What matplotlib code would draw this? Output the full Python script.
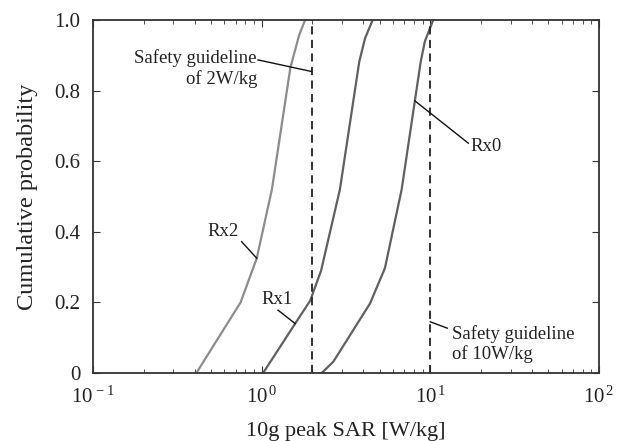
import matplotlib.pyplot as plt
from matplotlib.ticker import FixedLocator, LogLocator

plt.rcParams['font.family'] = ['Liberation Serif', 'DejaVu Serif']
plt.rcParams['mathtext.fontset'] = 'custom'
plt.rcParams['mathtext.rm'] = 'Liberation Serif'
plt.rcParams['mathtext.it'] = 'Liberation Serif:italic'

# curves (10g peak SAR in W/kg, cumulative probability)
rx2_sar = [0.41, 0.75, 0.935, 1.15, 1.48, 1.67, 1.81]
rx2_p = [0.0, 0.20, 0.325, 0.52, 0.865, 0.958, 1.0]

rx1_sar = [1.02, 1.58, 1.94, 2.25, 2.91, 3.79, 4.10, 4.55]
rx1_p = [0.0, 0.14, 0.205, 0.29, 0.52, 0.882, 0.948, 1.0]

rx0_sar = [2.27, 2.66, 4.39, 5.38, 6.76, 8.77, 9.29, 10.4]
rx0_p = [0.0, 0.032, 0.197, 0.297, 0.52, 0.882, 0.94, 1.0]

guidelines = [2, 10]
yticks = [0, 0.2, 0.4, 0.6, 0.8, 1.0]
ytick_labels = ['0', '0.2', '0.4', '0.6', '0.8', '1.0']
xticks = [0.1, 1, 10, 100]
xtick_labels = [r'$\mathregular{10^{\,-1}}$', r'$\mathregular{10^{\,0}}$',
                r'$\mathregular{10^{\,1}}$', r'$\mathregular{10^{\,2}}$']

fig = plt.figure(figsize=(6.18, 4.41), dpi=100)
ax = fig.add_axes([93 / 618, 1 - 373 / 441, 506 / 618, 353 / 441])

ax.plot(rx2_sar, rx2_p, color='#8c8c8c', lw=1.6)
ax.plot(rx1_sar, rx1_p, color='#606060', lw=1.6)
ax.plot(rx0_sar, rx0_p, color='#606060', lw=1.6)

for g in guidelines:
    ax.plot([g, g], [0, 1], color='#222222', lw=1.3, dashes=(4.5, 3))

ax.set_xscale('log')
ax.set_xlim(0.1, 100)
ax.set_ylim(0, 1)
ax.yaxis.set_major_locator(FixedLocator(yticks))
ax.set_yticklabels(ytick_labels)
ax.xaxis.set_major_locator(FixedLocator(xticks))
ax.set_xticklabels(xtick_labels)
ax.xaxis.set_minor_locator(LogLocator(base=10, subs=range(2, 10), numticks=10))
ax.tick_params(which='both', direction='in', top=True, right=True,
               labelsize=15, colors='#333333', labelcolor='#222222')
ax.tick_params(which='major', length=5)
ax.tick_params(which='minor', length=3)
ax.tick_params(axis='x', which='major', pad=10)
ax.tick_params(axis='y', which='major', pad=9)
for s in ax.spines.values():
    s.set_color('#333333')
    s.set_linewidth(1.3)

ax.set_xlabel('10g peak SAR [W/kg]', fontsize=16, color='#222222', labelpad=10)
ax.set_ylabel('Cumulative probability', fontsize=17.5, color='#222222', labelpad=12)

kw = dict(fontsize=13.5, color='#222222')
lk = dict(color='#111111', lw=1.0)

# leader lines and their labels
ax.plot([0.951, 1.98], [0.887, 0.854], **lk)
ax.text(0.938, 0.863, 'Safety guideline\nof 2W/kg', ha='right', va='center',
        multialignment='right', **kw)

ax.plot([10, 12.6], [0.145, 0.127], **lk)
ax.text(13.4, 0.082, 'Safety guideline\nof 10W/kg', ha='left', va='center', **kw)

ax.plot([0.761, 0.935], [0.372, 0.325], **lk)
ax.text(0.59, 0.40, 'Rx2', ha='center', va='center', **kw)

ax.plot([1.25, 1.58], [0.178, 0.14], **lk)
ax.text(1.233, 0.207, 'Rx1', ha='center', va='center', **kw)

ax.plot([8.1, 16.8], [0.771, 0.651], **lk)
ax.text(17.2, 0.641, 'Rx0', ha='left', va='center', **kw)

fig.savefig('out.png', dpi=100)
